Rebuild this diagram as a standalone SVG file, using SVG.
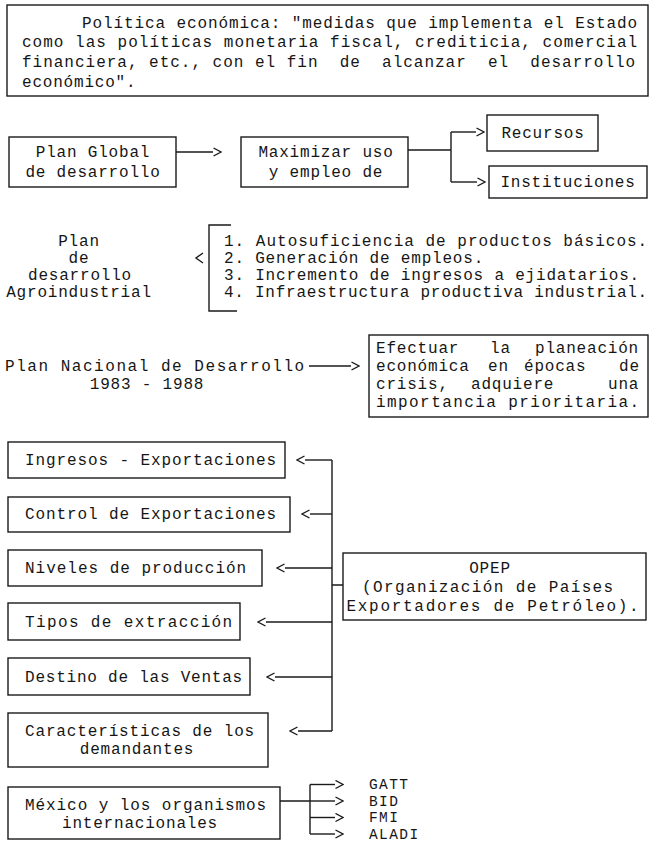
<svg xmlns="http://www.w3.org/2000/svg" width="652" height="844" viewBox="0 0 652 844">
<defs>
<style>
text{font-family:"Liberation Mono","DejaVu Sans Mono",monospace;font-size:16px;letter-spacing:0.8px;fill:#161616}
.box{fill:none;stroke:#1a1a1a;stroke-width:1.4}
.ln{fill:none;stroke:#1a1a1a;stroke-width:1.4}
.m{text-anchor:middle}
.org{font-size:14.5px;letter-spacing:1.4px}
</style>
<marker id="chev" viewBox="0 0 9 10" refX="0" refY="5" markerWidth="9" markerHeight="10" markerUnits="userSpaceOnUse" orient="auto">
<path d="M0.5,1 L8,5 L0.5,9" fill="none" stroke="#1a1a1a" stroke-width="1.4"/>
</marker>
</defs>
<rect width="652" height="844" fill="#ffffff"/>

<g id="politica">
<rect class="box" x="7" y="5" width="641" height="91"/>
<text x="82" y="28" textLength="556" lengthAdjust="spacing">Política económica: "medidas que implementa el Estado</text>
<text x="22" y="47" textLength="616" lengthAdjust="spacing">como las políticas monetaria fiscal, crediticia, comercial</text>
<text x="22" y="67" textLength="614" lengthAdjust="spacing" xml:space="preserve" style="white-space:pre">financiera, etc., con el fin  de  alcanzar  el  desarrollo</text>
<text x="22" y="87">económico".</text>
</g>

<g id="plan-global">
<rect class="box" x="9" y="137" width="167" height="50"/>
<text class="m" x="93" y="157">Plan Global</text>
<text class="m" x="93" y="177">de desarrollo</text>
</g>

<g id="maximizar">
<rect class="box" x="241" y="137" width="167" height="50"/>
<text class="m" x="326" y="157">Maximizar uso</text>
<text class="m" x="326" y="177">y empleo de</text>
</g>

<g id="recursos">
<rect class="box" x="487" y="115" width="111" height="36"/>
<text class="m" x="543" y="138">Recursos</text>
</g>

<g id="instituciones">
<rect class="box" x="489" y="166" width="158" height="32"/>
<text class="m" x="568" y="187">Instituciones</text>
</g>

<g id="plan-agro">
<text class="m" x="79" y="246">Plan</text>
<text class="m" x="79" y="263">de</text>
<text class="m" x="80" y="280">desarrollo</text>
<text class="m" x="79" y="297">Agroindustrial</text>
</g>

<g id="agro-lista">
<path class="ln" d="M231,225 H209 V311 H237"/>
<text x="224" y="246" textLength="424" lengthAdjust="spacing">1. Autosuficiencia de productos básicos.</text>
<text x="224" y="263">2. Generación de empleos.</text>
<text x="224" y="280" textLength="416" lengthAdjust="spacing">3. Incremento de ingresos a ejidatarios.</text>
<text x="224" y="297" textLength="424" lengthAdjust="spacing">4. Infraestructura productiva industrial.</text>
</g>

<g id="plan-nacional">
<text x="5" y="371" textLength="300" lengthAdjust="spacing">Plan Nacional de Desarrollo</text>
<text class="m" x="147" y="389">1983 - 1988</text>
</g>

<g id="efectuar">
<rect class="box" x="369" y="335" width="279" height="82"/>
<text y="353"><tspan x="376">Efectuar</tspan><tspan x="490">la</tspan><tspan x="535">planeación</tspan></text>
<text y="371"><tspan x="376">económica</tspan><tspan x="488">en</tspan><tspan x="524">épocas</tspan><tspan x="619">de</tspan></text>
<text y="389"><tspan x="376">crisis,</tspan><tspan x="471">adquiere</tspan><tspan x="608">una</tspan></text>
<text x="376" y="407" textLength="264" lengthAdjust="spacing">importancia prioritaria.</text>
</g>

<g id="ingresos">
<rect class="box" x="8" y="442" width="277" height="36"/>
<text x="25" y="465" textLength="252" lengthAdjust="spacing">Ingresos - Exportaciones</text>
</g>

<g id="control">
<rect class="box" x="8" y="497" width="282" height="35"/>
<text x="25" y="519" textLength="252" lengthAdjust="spacing">Control de Exportaciones</text>
</g>

<g id="niveles">
<rect class="box" x="8" y="550" width="254" height="36"/>
<text x="25" y="573" textLength="222" lengthAdjust="spacing">Niveles de producción</text>
</g>

<g id="tipos">
<rect class="box" x="8" y="603" width="232" height="37"/>
<text x="25" y="627" textLength="208" lengthAdjust="spacing">Tipos de extracción</text>
</g>

<g id="destino">
<rect class="box" x="8" y="658" width="242" height="37"/>
<text x="25" y="682" textLength="218" lengthAdjust="spacing">Destino de las Ventas</text>
</g>

<g id="caracteristicas">
<rect class="box" x="8" y="713" width="260" height="54"/>
<text x="25" y="736" textLength="230" lengthAdjust="spacing">Características de los</text>
<text class="m" x="137" y="754">demandantes</text>
</g>

<g id="opep">
<rect class="box" x="343" y="553" width="303" height="67"/>
<text class="m" x="490" y="573">OPEP</text>
<text class="m" x="488" y="592" textLength="252" lengthAdjust="spacing">(Organización de Países</text>
<text class="m" x="493" y="611" textLength="293" lengthAdjust="spacing">Exportadores de Petróleo).</text>
</g>

<g id="mexico">
<rect class="box" x="8" y="787" width="272" height="52"/>
<text x="25" y="810" textLength="242" lengthAdjust="spacing">México y los organismos</text>
<text class="m" x="140" y="828">internacionales</text>
</g>

<g id="organismos">
<text class="org" x="369" y="789">GATT</text>
<text class="org" x="369" y="805.5">BID</text>
<text class="org" x="369" y="822">FMI</text>
<text class="org" x="369" y="838.5">ALADI</text>
</g>

<g id="connectors">
<path class="ln" d="M176,152 H213" marker-end="url(#chev)"/>
<path class="ln" d="M408,150 H451 M451,132 V182"/>
<path class="ln" d="M451,132 H476" marker-end="url(#chev)"/>
<path class="ln" d="M451,182 H477" marker-end="url(#chev)"/>
<path class="ln" d="M203,253 L196,258 L203,263"/>
<path class="ln" d="M309,366 H351" marker-end="url(#chev)"/>
<path class="ln" d="M332,460 V731 M343,585 H332"/>
<path class="ln" d="M332,460 H305" marker-end="url(#chev)"/>
<path class="ln" d="M332,514 H310" marker-end="url(#chev)"/>
<path class="ln" d="M332,568 H285" marker-end="url(#chev)"/>
<path class="ln" d="M332,622 H266" marker-end="url(#chev)"/>
<path class="ln" d="M332,677 H275" marker-end="url(#chev)"/>
<path class="ln" d="M332,731 H298" marker-end="url(#chev)"/>
<path class="ln" d="M280,801 H310 M310,784.5 V834"/>
<path class="ln" d="M310,784.5 H335" marker-end="url(#chev)"/>
<path class="ln" d="M310,801 H335" marker-end="url(#chev)"/>
<path class="ln" d="M310,817.5 H335" marker-end="url(#chev)"/>
<path class="ln" d="M310,834 H335" marker-end="url(#chev)"/>
</g>
</svg>
